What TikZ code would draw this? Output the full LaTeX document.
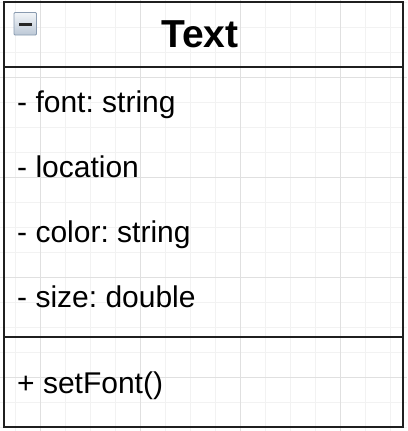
\documentclass[tikz,border=0pt]{standalone}
\usepackage{fontspec}
\setmainfont{Liberation Sans}
\frenchspacing
\definecolor{toggle_top}{HTML}{F2F5F8}
\definecolor{toggle_bottom}{HTML}{BCC8D6}
\definecolor{toggle_edge}{HTML}{8A9BB0}
\tikzset{
    main_line/.style = {
        draw=black!88,
        line width=2pt
    },
    grid_line/.style = {
        draw=black!5,
        line width=0.7pt
    },
    major_grid_line/.style = {
        draw=black!12,
        line width=0.7pt
    },
    member_text/.style = {
        anchor=base west,
        inner sep=0pt,
        font=\fontsize{30}{36}\selectfont
    },
    title_text/.style = {
        anchor=base,
        inner sep=0pt,
        font=\fontsize{39}{46}\selectfont\bfseries
    },
    toggle_box/.style = {
        draw=toggle_edge,
        line width=0.8pt,
        rounded corners=1pt,
        top color=toggle_top,
        bottom color=toggle_bottom
    },
}

\begin{document}
\begin{tikzpicture}[x=1pt, y=-1pt]
    \useasboundingbox (0, 0) rectangle (407, 431);
    \fill[white] (0, 0) rectangle (407, 431);
    % background grid
    \foreach \gx in {15, 40, ..., 390} {
        \path[grid_line] (\gx, 0) -- (\gx, 431);
    }
    \foreach \gy in {2, 27, ..., 427} {
        \path[grid_line] (0, \gy) -- (407, \gy);
    }
    \foreach \gx in {40, 140, 240, 340} {
        \path[major_grid_line] (\gx, 0) -- (\gx, 431);
    }
    \foreach \gy in {77, 177, 277, 377} {
        \path[major_grid_line] (0, \gy) -- (407, \gy);
    }

    % class box
    \begin{scope}
        \path[main_line] (3.5, 1.5) rectangle (403, 427);
        \path[main_line] (3.5, 67) -- (403, 67);
        \path[main_line] (3.5, 337) -- (403, 337);

        \path[toggle_box] (14, 12.5) rectangle (36.5, 35);
        \fill[black!85] (18.5, 23) rectangle (32, 25.5);

        \node[title_text] (class_name) at (200, 47.5) {Text};
    \end{scope}

    % members
    \node[member_text] (attr_font) at (17, 112) {- font: string};
    \node[member_text] (attr_location) at (17, 177) {- location};
    \node[member_text] (attr_color) at (17, 242) {- color: string};
    \node[member_text] (attr_size) at (17, 307) {- size: double};
    \node[member_text] (op_set_font) at (17, 393) {+ setFont()};
\end{tikzpicture}
\end{document}
